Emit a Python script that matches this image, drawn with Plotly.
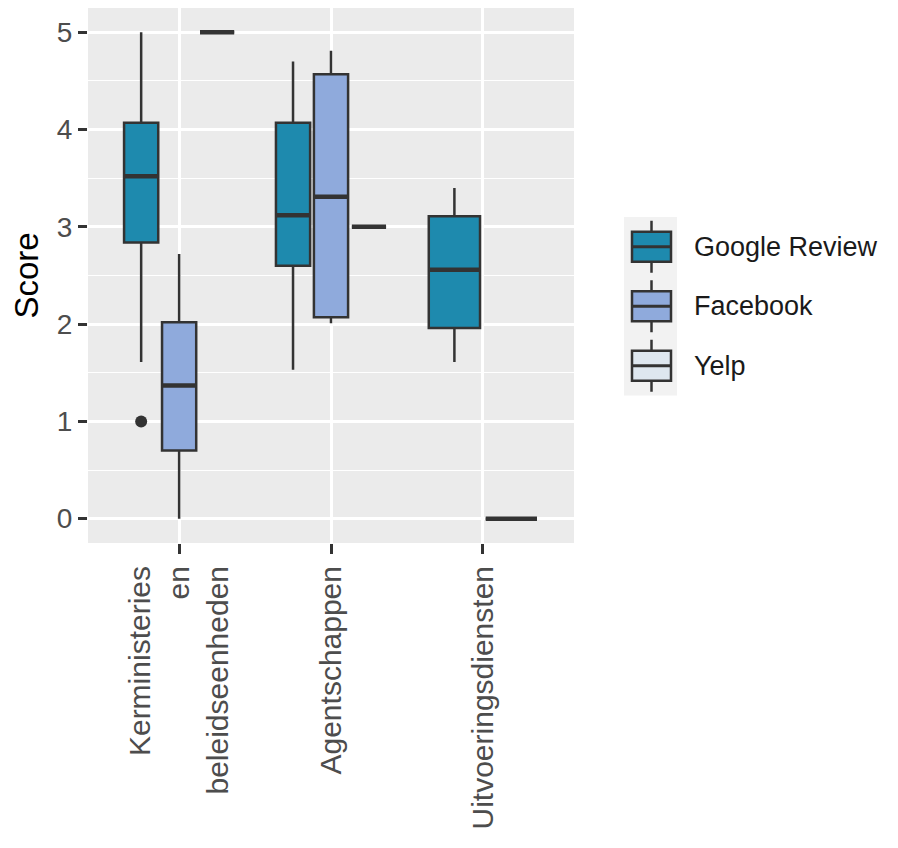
import plotly.graph_objects as go

# ---------------- data ----------------
categories = ["Kerministeries<br>en<br>beleidseenheden", "Agentschappen", "Uitvoeringsdiensten"]
series = ["Google Review", "Facebook", "Yelp"]

google_lower = [1.61, 1.53, 1.61]
google_q1 = [2.84, 2.60, 1.96]
google_median = [3.52, 3.12, 2.56]
google_q3 = [4.07, 4.07, 3.11]
google_upper = [5.00, 4.70, 3.40]

facebook_lower = [0.00, 2.01, None]
facebook_q1 = [0.70, 2.07, None]
facebook_median = [1.37, 3.31, None]
facebook_q3 = [2.02, 4.57, None]
facebook_upper = [2.72, 4.81, None]

yelp_lower = [5.0, 3.0, 0.0]
yelp_q1 = [5.0, 3.0, 0.0]
yelp_median = [5.0, 3.0, 0.0]
yelp_q3 = [5.0, 3.0, 0.0]
yelp_upper = [5.0, 3.0, 0.0]

# outliers: (series, category index, value)
outlier_series = ["Google Review"]
outlier_cat = [0]
outlier_value = [1.0]

y_ticks = [0, 1, 2, 3, 4, 5]

# ---------------- styles ----------------
colors = {"Google Review": "#1E8AAE", "Facebook": "#8FAADC", "Yelp": "#DEE7EF"}
line_col = "#333333"
stats = {
    "Google Review": (google_lower, google_q1, google_median, google_q3, google_upper),
    "Facebook": (facebook_lower, facebook_q1, facebook_median, facebook_q3, facebook_upper),
    "Yelp": (yelp_lower, yelp_q1, yelp_median, yelp_q3, yelp_upper),
}

DODGE = 0.75
PAD = 0.1

W, H = 898, 848
ML, MR, MT, MB = 88, 324, 8, 305
PW, PH = W - ML - MR, H - MT - MB


def px_x(p):
    return (p - ML) / PW


def px_y(p):
    return 1 - (p - MT) / PH


fig = go.Figure()
positions = {}
for ci, cat in enumerate(categories):
    present = [s for s in series if stats[s][2][ci] is not None]
    n = len(present)
    slot = DODGE / n
    for k, s in enumerate(present):
        pos = (ci + 1) + (k - (n - 1) / 2) * slot
        positions[(s, ci)] = (pos, slot * (1 - PAD))

for s in series:
    lo, q1, md, q3, up = stats[s]
    for ci in range(len(categories)):
        if md[ci] is None:
            continue
        pos, w = positions[(s, ci)]
        fig.add_trace(go.Box(
            x=[pos], lowerfence=[lo[ci]], q1=[q1[ci]], median=[md[ci]],
            q3=[q3[ci]], upperfence=[up[ci]],
            width=w, name=s, showlegend=False,
            fillcolor=colors[s], line=dict(color=line_col, width=2.5),
            whiskerwidth=0, boxpoints=False, hoverinfo="skip",
        ))
        # thicker median line (ggplot fatten)
        fig.add_trace(go.Box(
            x=[pos], lowerfence=[md[ci]], q1=[md[ci]], median=[md[ci]],
            q3=[md[ci]], upperfence=[md[ci]],
            width=w, name=s, showlegend=False,
            fillcolor="rgba(0,0,0,0)", line=dict(color=line_col, width=4.5),
            whiskerwidth=0, boxpoints=False, hoverinfo="skip",
        ))

for s, ci, v in zip(outlier_series, outlier_cat, outlier_value):
    pos, w = positions[(s, ci)]
    fig.add_trace(go.Scatter(
        x=[pos], y=[v], mode="markers", showlegend=False,
        marker=dict(color=line_col, size=12), hoverinfo="skip",
    ))

font_family = "Liberation Sans, Arial, sans-serif"

# ---------------- custom ggplot-like legend ----------------
shapes = []
annotations = []
KEY_L, KEY_R = 624, 677
KEY_TOP, KEY_STEP = 217, 59.5
BOX_L, BOX_R = 632, 671
KEY_CX = (BOX_L + BOX_R) / 2
shapes.append(dict(type="rect", xref="paper", yref="paper", layer="below",
                   x0=px_x(KEY_L), x1=px_x(KEY_R),
                   y0=px_y(KEY_TOP), y1=px_y(KEY_TOP + KEY_STEP * len(series)),
                   fillcolor="#F2F2F2", line=dict(width=0)))
for i, s in enumerate(series):
    cy = KEY_TOP + KEY_STEP * (i + 0.5)
    shapes.append(dict(type="line", xref="paper", yref="paper",
                       x0=px_x(KEY_CX), x1=px_x(KEY_CX),
                       y0=px_y(cy - 26), y1=px_y(cy + 26),
                       line=dict(color=line_col, width=2.5)))
    shapes.append(dict(type="rect", xref="paper", yref="paper",
                       x0=px_x(BOX_L), x1=px_x(BOX_R),
                       y0=px_y(cy - 15), y1=px_y(cy + 15),
                       fillcolor=colors[s], line=dict(color=line_col, width=2.5)))
    shapes.append(dict(type="line", xref="paper", yref="paper",
                       x0=px_x(BOX_L), x1=px_x(BOX_R),
                       y0=px_y(cy), y1=px_y(cy),
                       line=dict(color=line_col, width=3)))
    annotations.append(dict(text=s, xref="paper", yref="paper",
                            x=px_x(692), y=px_y(cy), xanchor="left", yanchor="middle",
                            showarrow=False,
                            font=dict(size=27, color="#1A1A1A", family=font_family)))

fig.update_layout(
    width=W, height=H, autosize=False,
    margin=dict(l=ML, r=MR, t=MT, b=MB, pad=0),
    paper_bgcolor="white", plot_bgcolor="#EBEBEB",
    font=dict(family=font_family, color="#4D4D4D"),
    showlegend=False,
    shapes=shapes, annotations=annotations,
    xaxis=dict(
        range=[0.4, 3.6], tickmode="array", tickvals=[1, 2, 3], ticktext=categories,
        tickangle=-90, showgrid=True, gridcolor="white", gridwidth=2.6,
        zeroline=False, showline=False, ticks="outside", ticklen=10,
        tickwidth=2.5, tickcolor=line_col,
        tickfont=dict(size=30, color="#4D4D4D", family=font_family),
    ),
    yaxis=dict(
        range=[-0.25, 5.25], tickmode="array", tickvals=y_ticks,
        showgrid=True, gridcolor="white", gridwidth=2.6,
        minor=dict(tickmode="linear", tick0=0.5, dtick=1, showgrid=True,
                   gridcolor="white", gridwidth=1.4, ticks=""),
        zeroline=False, showline=False, ticks="outside", ticklen=9,
        tickwidth=2.5, tickcolor=line_col,
        tickfont=dict(size=28, color="#4D4D4D", family=font_family),
        title=dict(text="Score", font=dict(size=33, color="black", family=font_family),
                   standoff=8),
    ),
)

fig.write_html("out.html")
